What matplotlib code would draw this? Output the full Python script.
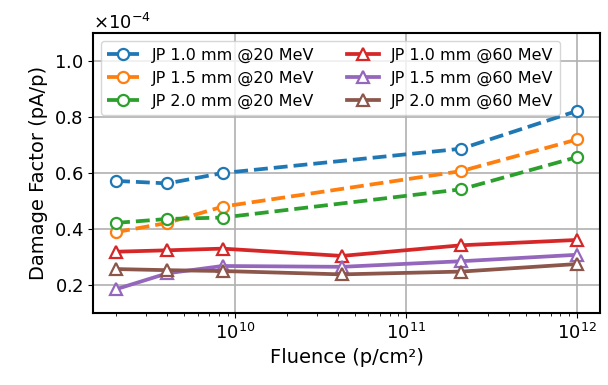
# Damage factor vs. fluence for JP samples at 20 and 60 MeV
import numpy as np
import matplotlib
matplotlib.use('Agg')
from matplotlib import pyplot as plt

fluence_20 = [2e9, 4e9, 8.4e9, 2.1e11, 1e12]
fluence_60 = [2e9, 4e9, 8.4e9, 4.2e10, 2.1e11, 1e12]

jp10_20 = [0.572e-4, 0.563e-4, 0.600e-4, 0.687e-4, 0.822e-4]
jp15_20 = [0.389e-4, 0.422e-4, 0.480e-4, 0.607e-4, 0.720e-4]
jp20_20 = [0.422e-4, 0.436e-4, 0.441e-4, 0.542e-4, 0.657e-4]

jp10_60 = [0.319e-4, 0.324e-4, 0.330e-4, 0.304e-4, 0.342e-4, 0.361e-4]
jp15_60 = [0.185e-4, 0.242e-4, 0.268e-4, 0.265e-4, 0.285e-4, 0.308e-4]
jp20_60 = [0.257e-4, 0.253e-4, 0.250e-4, 0.238e-4, 0.248e-4, 0.275e-4]

fig, ax = plt.subplots(figsize=(6.08, 3.85), dpi=100)

style = dict(lw=2.7, ms=8, mew=1.6, mfc='white')
ax.plot(fluence_20, jp10_20, 'o--', color='#1f77b4', label='JP 1.0 mm @20 MeV', **style)
ax.plot(fluence_20, jp15_20, 'o--', color='#ff7f0e', label='JP 1.5 mm @20 MeV', **style)
ax.plot(fluence_20, jp20_20, 'o--', color='#2ca02c', label='JP 2.0 mm @20 MeV', **style)
ax.plot(fluence_60, jp10_60, '^-', color='#d62728', label='JP 1.0 mm @60 MeV', **style)
ax.plot(fluence_60, jp15_60, '^-', color='#9467bd', label='JP 1.5 mm @60 MeV', **style)
ax.plot(fluence_60, jp20_60, '^-', color='#8c564b', label='JP 2.0 mm @60 MeV', **style)

ax.set_xscale('log')
ax.set_ylim(0.1e-4, 1.1e-4)
ax.set_yticks([0.2e-4, 0.4e-4, 0.6e-4, 0.8e-4, 1.0e-4])
ax.ticklabel_format(axis='y', style='sci', scilimits=(0, 0), useMathText=True)
ax.yaxis.get_offset_text().set_fontsize(13)

ax.grid(True, which='major', color='#b0b0b0', lw=1.2)
ax.tick_params(labelsize=13)
ax.set_xlabel('Fluence (p/cm²)', fontsize=14)
ax.set_ylabel('Damage Factor (pA/p)', fontsize=14)
for s in ax.spines.values():
    s.set_linewidth(1.5)

ax.legend(ncol=2, loc='upper left', fontsize=11.5)

fig.subplots_adjust(left=0.153, right=0.987, top=0.914, bottom=0.187)
fig.savefig('out.png', dpi=100)
